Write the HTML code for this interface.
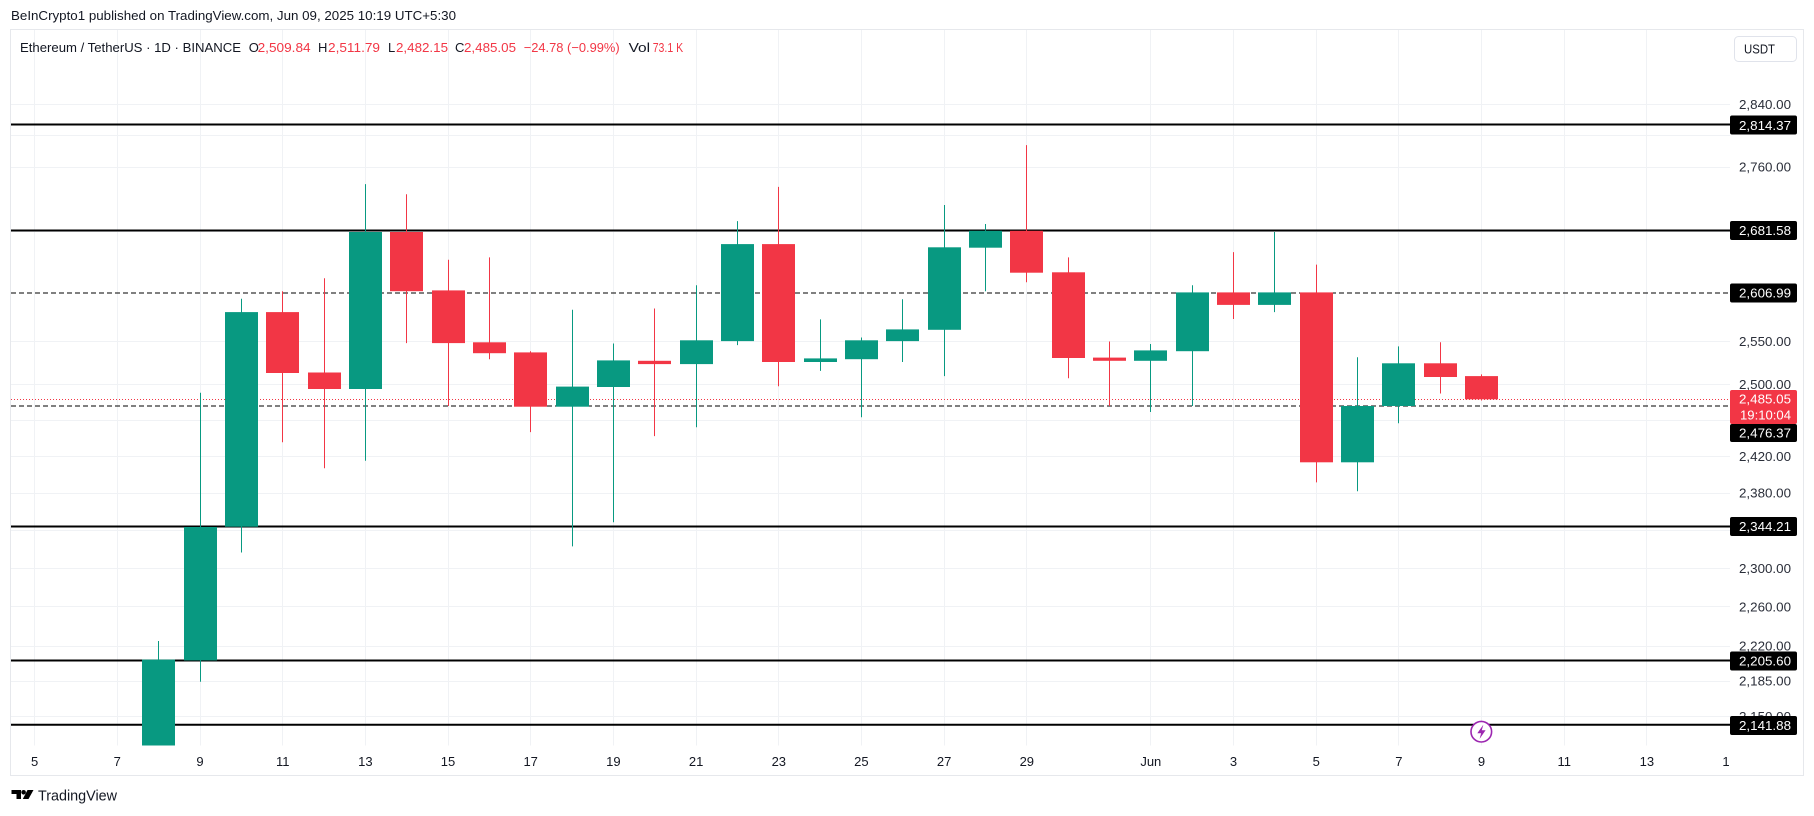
<!DOCTYPE html>
<html><head><meta charset="utf-8"><style>
html,body{margin:0;padding:0;background:#fff;}
svg{display:block;font-family:"Liberation Sans",Arial,sans-serif;}
</style></head><body>
<svg width="1814" height="816" viewBox="0 0 1814 816" xmlns="http://www.w3.org/2000/svg">
<defs><clipPath id="plot"><rect x="11" y="30" width="1719" height="715.5"/></clipPath></defs>
<rect width="1814" height="816" fill="#fff"/>
<!-- header -->
<text x="11" y="20" font-size="13" fill="#131722" textLength="445" lengthAdjust="spacingAndGlyphs">BeInCrypto1 published on TradingView.com, Jun 09, 2025 10:19 UTC+5:30</text>
<!-- container -->
<rect x="10.5" y="29.5" width="1793" height="746" fill="#fff" stroke="#e6e8ec" stroke-width="1"/>
<g clip-path="url(#plot)">
<!-- vertical grid -->
<g stroke="#f0f2f5" stroke-width="1">
<line x1="34.5" y1="30" x2="34.5" y2="746"/><line x1="117.5" y1="30" x2="117.5" y2="746"/><line x1="200.5" y1="30" x2="200.5" y2="746"/><line x1="282.5" y1="30" x2="282.5" y2="746"/><line x1="365.5" y1="30" x2="365.5" y2="746"/><line x1="448.5" y1="30" x2="448.5" y2="746"/><line x1="530.5" y1="30" x2="530.5" y2="746"/><line x1="613.5" y1="30" x2="613.5" y2="746"/><line x1="696.5" y1="30" x2="696.5" y2="746"/><line x1="778.5" y1="30" x2="778.5" y2="746"/><line x1="861.5" y1="30" x2="861.5" y2="746"/><line x1="944.5" y1="30" x2="944.5" y2="746"/><line x1="1026.5" y1="30" x2="1026.5" y2="746"/><line x1="1150.5" y1="30" x2="1150.5" y2="746"/><line x1="1233.5" y1="30" x2="1233.5" y2="746"/><line x1="1316.5" y1="30" x2="1316.5" y2="746"/><line x1="1398.5" y1="30" x2="1398.5" y2="746"/><line x1="1481.5" y1="30" x2="1481.5" y2="746"/><line x1="1564.5" y1="30" x2="1564.5" y2="746"/><line x1="1646.5" y1="30" x2="1646.5" y2="746"/>
</g>
<!-- horizontal grid -->
<g stroke="#f0f2f5" stroke-width="1">
<line x1="11" y1="104.5" x2="1730" y2="104.5"/><line x1="11" y1="135.5" x2="1730" y2="135.5"/><line x1="11" y1="167.5" x2="1730" y2="167.5"/><line x1="11" y1="231.5" x2="1730" y2="231.5"/><line x1="11" y1="341.5" x2="1730" y2="341.5"/><line x1="11" y1="384.5" x2="1730" y2="384.5"/><line x1="11" y1="420.5" x2="1730" y2="420.5"/><line x1="11" y1="456.5" x2="1730" y2="456.5"/><line x1="11" y1="493.5" x2="1730" y2="493.5"/><line x1="11" y1="530.5" x2="1730" y2="530.5"/><line x1="11" y1="568.5" x2="1730" y2="568.5"/><line x1="11" y1="606.5" x2="1730" y2="606.5"/><line x1="11" y1="646.5" x2="1730" y2="646.5"/><line x1="11" y1="681.5" x2="1730" y2="681.5"/><line x1="11" y1="716.5" x2="1730" y2="716.5"/>
</g>
<!-- level lines -->
<g stroke="#000">
<line x1="11" y1="124.5" x2="1730" y2="124.5" stroke-width="2"/>
<line x1="11" y1="230.5" x2="1730" y2="230.5" stroke-width="2"/>
<line x1="11" y1="293" x2="1730" y2="293" stroke-width="1" stroke-dasharray="5,3"/>
<line x1="11" y1="406" x2="1730" y2="406" stroke-width="1" stroke-dasharray="5,3"/>
<line x1="11" y1="526.5" x2="1730" y2="526.5" stroke-width="2"/>
<line x1="11" y1="660.5" x2="1730" y2="660.5" stroke-width="2"/>
<line x1="11" y1="724.8" x2="1730" y2="724.8" stroke-width="2"/>
</g>
<line x1="11" y1="399.5" x2="1730" y2="399.5" stroke="#f23645" stroke-width="1" stroke-dasharray="1,2"/>
<!-- candles green -->
<g fill="#089981" stroke="#089981">
<line x1="158.5" y1="641" x2="158.5" y2="760" stroke-width="1"/><rect x="142" y="659.6" width="33" height="100" stroke="none"/>
<line x1="200.5" y1="392.7" x2="200.5" y2="681.7"/><rect x="184" y="527" width="33" height="133.4" stroke="none"/>
<line x1="241.5" y1="298.8" x2="241.5" y2="552.5"/><rect x="225" y="312.1" width="33" height="214.6" stroke="none"/>
<line x1="365.5" y1="184.1" x2="365.5" y2="460.7"/><rect x="349" y="232" width="33" height="157" stroke="none"/>
<line x1="572.5" y1="309.7" x2="572.5" y2="546.4"/><rect x="556" y="386.6" width="33" height="20.1" stroke="none"/>
<line x1="613.5" y1="343.5" x2="613.5" y2="522.3"/><rect x="597" y="360.4" width="33" height="26.6" stroke="none"/>
<line x1="696.5" y1="285.2" x2="696.5" y2="427.3"/><rect x="680" y="340.3" width="33" height="23.8" stroke="none"/>
<line x1="737.5" y1="221.1" x2="737.5" y2="345.1"/><rect x="721" y="244.1" width="33" height="97" stroke="none"/>
<line x1="820.5" y1="319.4" x2="820.5" y2="370.9"/><rect x="804" y="358.4" width="33" height="3.6" stroke="none"/>
<line x1="861.5" y1="337.5" x2="861.5" y2="417.2"/><rect x="845" y="340.3" width="33" height="18.9" stroke="none"/>
<line x1="902.5" y1="299.2" x2="902.5" y2="362"/><rect x="886" y="329.4" width="33" height="11.7" stroke="none"/>
<line x1="944.5" y1="205" x2="944.5" y2="376.1"/><rect x="928" y="247.3" width="33" height="82.5" stroke="none"/>
<line x1="985.5" y1="224" x2="985.5" y2="291.2"/><rect x="969" y="230.8" width="33" height="16.9" stroke="none"/>
<line x1="1150.5" y1="344" x2="1150.5" y2="412"/><rect x="1134" y="350.4" width="33" height="10.4" stroke="none"/>
<line x1="1192.5" y1="285.2" x2="1192.5" y2="406"/><rect x="1176" y="292.4" width="33" height="58.8" stroke="none"/>
<line x1="1274.5" y1="232" x2="1274.5" y2="312.1"/><rect x="1258" y="292.4" width="33" height="12.5" stroke="none"/>
<line x1="1357.5" y1="357.2" x2="1357.5" y2="491.3"/><rect x="1341" y="406" width="33" height="56.3" stroke="none"/>
<line x1="1398.5" y1="346.4" x2="1398.5" y2="423.2"/><rect x="1382" y="363.3" width="33" height="42.7" stroke="none"/>
</g>
<!-- candles red -->
<g fill="#f23645" stroke="#f23645">
<line x1="282.5" y1="291.2" x2="282.5" y2="442.2"/><rect x="266" y="312.1" width="33" height="60.9" stroke="none"/>
<line x1="324.5" y1="278.3" x2="324.5" y2="468.3"/><rect x="308" y="372.5" width="33" height="16.5" stroke="none"/>
<line x1="406.5" y1="194.2" x2="406.5" y2="343.1"/><rect x="390" y="232" width="33" height="59.2" stroke="none"/>
<line x1="448.5" y1="259.8" x2="448.5" y2="406"/><rect x="432" y="290.4" width="33" height="52.7" stroke="none"/>
<line x1="489.5" y1="257.4" x2="489.5" y2="359.2"/><rect x="473" y="342.3" width="33" height="10.9" stroke="none"/>
<line x1="530.5" y1="351.2" x2="530.5" y2="432.1"/><rect x="514" y="352.4" width="33" height="54.3" stroke="none"/>
<line x1="654.5" y1="308.5" x2="654.5" y2="436.1"/><rect x="638" y="360.8" width="33" height="3.3" stroke="none"/>
<line x1="778.5" y1="186.9" x2="778.5" y2="386.2"/><rect x="762" y="244.1" width="33" height="117.9" stroke="none"/>
<line x1="1026.5" y1="145.1" x2="1026.5" y2="282.3"/><rect x="1010" y="230.8" width="33" height="41.9" stroke="none"/>
<line x1="1068.5" y1="257.4" x2="1068.5" y2="378.2"/><rect x="1052" y="272.3" width="33" height="85.7" stroke="none"/>
<line x1="1109.5" y1="341.5" x2="1109.5" y2="406"/><rect x="1093" y="357.6" width="33" height="3.2" stroke="none"/>
<line x1="1233.5" y1="252.1" x2="1233.5" y2="319"/><rect x="1217" y="292.4" width="33" height="12.5" stroke="none"/>
<line x1="1316.5" y1="264.6" x2="1316.5" y2="482.4"/><rect x="1300" y="292.4" width="33" height="169.9" stroke="none"/>
<line x1="1440.5" y1="342.3" x2="1440.5" y2="393.5"/><rect x="1424" y="363.3" width="33" height="13.7" stroke="none"/>
<line x1="1481.5" y1="374.4" x2="1481.5" y2="400.5"/><rect x="1465" y="376.1" width="33" height="23.2" stroke="none"/>
</g>
<!-- lightning icon -->
<circle cx="1481.3" cy="731.7" r="10.3" fill="#fff" stroke="#9c27b0" stroke-width="1.6"/>
<path d="M1483.3 724.7 L1477.3 733.2 L1481.1 733.2 L1479.6 738.9 L1485.6 730.2 L1481.8 730.2 Z" fill="#9c27b0"/>
</g>
<!-- legend -->
<g font-size="13">
<text x="20" y="52" fill="#131722" textLength="221" lengthAdjust="spacingAndGlyphs">Ethereum / TetherUS · 1D · BINANCE</text>
<text x="248.7" y="52" fill="#131722">O</text><text x="257.6" y="52" fill="#f23645" textLength="53" lengthAdjust="spacingAndGlyphs">2,509.84</text>
<text x="318" y="52" fill="#131722">H</text><text x="328" y="52" fill="#f23645" textLength="52" lengthAdjust="spacingAndGlyphs">2,511.79</text>
<text x="388" y="52" fill="#131722">L</text><text x="396" y="52" fill="#f23645" textLength="52" lengthAdjust="spacingAndGlyphs">2,482.15</text>
<text x="455" y="52" fill="#131722">C</text><text x="464" y="52" fill="#f23645" textLength="52" lengthAdjust="spacingAndGlyphs">2,485.05</text>
<text x="523.7" y="52" fill="#f23645" textLength="96" lengthAdjust="spacingAndGlyphs">−24.78 (−0.99%)</text>
<text x="628.6" y="52" fill="#131722" textLength="21.5" lengthAdjust="spacingAndGlyphs">Vol</text><text x="652.7" y="52" fill="#f23645" textLength="30.5" lengthAdjust="spacingAndGlyphs">73.1 K</text>
</g>
<!-- date labels -->
<g font-size="13" fill="#131722" text-anchor="middle">
<text x="34.6" y="766">5</text><text x="117.3" y="766">7</text><text x="200" y="766">9</text><text x="282.7" y="766">11</text><text x="365.4" y="766">13</text><text x="448" y="766">15</text><text x="530.7" y="766">17</text><text x="613.4" y="766">19</text><text x="696.1" y="766">21</text><text x="778.8" y="766">23</text><text x="861.4" y="766">25</text><text x="944.1" y="766">27</text><text x="1026.8" y="766">29</text><text x="1150.8" y="766">Jun</text><text x="1233.5" y="766">3</text><text x="1316.2" y="766">5</text><text x="1398.9" y="766">7</text><text x="1481.5" y="766">9</text><text x="1564.2" y="766">11</text><text x="1646.9" y="766">13</text><text x="1729.6" y="766">15</text>
</g>
<!-- price axis panel -->
<rect x="1730" y="30" width="73" height="745" fill="#fff"/>
<line x1="1803.5" y1="30" x2="1803.5" y2="776" stroke="#e6e8ec"/>
<rect x="1734.5" y="36.5" width="62" height="25" rx="4" fill="#fff" stroke="#e0e3eb"/>
<text x="1744" y="53.5" font-size="13" fill="#131722" textLength="31" lengthAdjust="spacingAndGlyphs">USDT</text>
<g font-size="13" fill="#2a2e39">
<text x="1739" y="109" textLength="52" lengthAdjust="spacingAndGlyphs">2,840.00</text>
<text x="1739" y="171.5" textLength="52" lengthAdjust="spacingAndGlyphs">2,760.00</text>
<text x="1739" y="346" textLength="52" lengthAdjust="spacingAndGlyphs">2,550.00</text>
<text x="1739" y="389" textLength="52" lengthAdjust="spacingAndGlyphs">2,500.00</text>
<text x="1739" y="461" textLength="52" lengthAdjust="spacingAndGlyphs">2,420.00</text>
<text x="1739" y="497.5" textLength="52" lengthAdjust="spacingAndGlyphs">2,380.00</text>
<text x="1739" y="573" textLength="52" lengthAdjust="spacingAndGlyphs">2,300.00</text>
<text x="1739" y="611.5" textLength="52" lengthAdjust="spacingAndGlyphs">2,260.00</text>
<text x="1739" y="650.5" textLength="52" lengthAdjust="spacingAndGlyphs">2,220.00</text>
<text x="1739" y="685.5" textLength="52" lengthAdjust="spacingAndGlyphs">2,185.00</text>
<text x="1739" y="721" textLength="52" lengthAdjust="spacingAndGlyphs">2,150.00</text>
</g>
<!-- label boxes -->
<g fill="#000">
<rect x="1730" y="115.5" width="67" height="19" rx="2"/>
<rect x="1730" y="221" width="67" height="19" rx="2"/>
<rect x="1730" y="283.5" width="67" height="19" rx="2"/>
<rect x="1730" y="424" width="67" height="18" rx="2"/>
<rect x="1730" y="517" width="67" height="19" rx="2"/>
<rect x="1730" y="651.5" width="67" height="19" rx="2"/>
<rect x="1730" y="716" width="67" height="19" rx="2"/>
</g>
<rect x="1730" y="390" width="67" height="34" rx="2" fill="#f23645"/>
<g font-size="13" fill="#fff">
<text x="1739" y="129.8" textLength="52" lengthAdjust="spacingAndGlyphs">2,814.37</text>
<text x="1739" y="235" textLength="52" lengthAdjust="spacingAndGlyphs">2,681.58</text>
<text x="1739" y="297.5" textLength="52" lengthAdjust="spacingAndGlyphs">2,606.99</text>
<text x="1739" y="403.5" textLength="52" lengthAdjust="spacingAndGlyphs">2,485.05</text>
<text x="1740" y="419.5" textLength="51" lengthAdjust="spacingAndGlyphs">19:10:04</text>
<text x="1739" y="437.5" textLength="52" lengthAdjust="spacingAndGlyphs">2,476.37</text>
<text x="1739" y="531" textLength="52" lengthAdjust="spacingAndGlyphs">2,344.21</text>
<text x="1739" y="665.5" textLength="52" lengthAdjust="spacingAndGlyphs">2,205.60</text>
<text x="1739" y="730" textLength="52" lengthAdjust="spacingAndGlyphs">2,141.88</text>
</g>
<!-- TradingView logo -->
<g fill="#000">
<path d="M11.5 790 H21 V799 H16.5 V794 H11.5 Z"/>
<circle cx="23.6" cy="792.3" r="2.3"/>
<path d="M27.5 790 H33.5 L28.5 799 H22.8 Z"/>
</g>
<text x="38" y="800.5" font-size="14.5" fill="#131722" textLength="79" lengthAdjust="spacingAndGlyphs">TradingView</text>
</svg>
</body></html>
